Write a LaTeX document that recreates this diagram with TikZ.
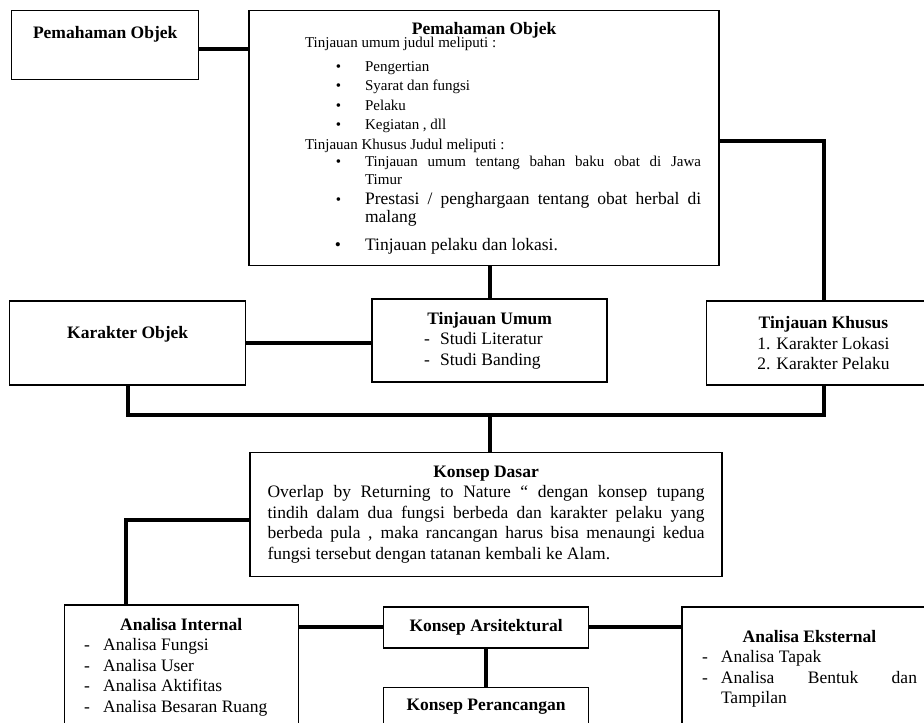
\documentclass[tikz,border=0pt]{standalone}
\usepackage{fontspec}
\setmainfont{Liberation Serif}
\usepackage{enumitem}
\usetikzlibrary{positioning}

\newcommand{\bodyfont}{\fontsize{17.5}{20.5}\selectfont}
\newcommand{\smallfont}{\fontsize{15}{19.5}\selectfont}
\newcommand{\ditem}[2][19pt]{\makebox[#1][l]{-}#2}

\begin{document}
\begin{tikzpicture}[
  x=1pt, y=-1pt,
  kbox/.style={rectangle, draw, line width=1.4pt, font=\bodyfont, inner sep=0pt},
  ktitle/.style={font=\bodyfont\bfseries, inner sep=0pt},
  link/.style={line width=4pt}
]
\path[use as bounding box, clip] (0,0) rectangle (924,723);

% Top row: object understanding
\node[kbox, minimum width=187pt, minimum height=69pt, anchor=north west]
    (po) at (11,10) {};
\node[ktitle, below=16pt of po.north] (po-t) {Pemahaman Objek};

\node[kbox, text width=434pt, inner xsep=18pt, minimum height=255pt,
      align=justify, right=49pt of po.north east, anchor=north west]
    (pob) {\centerline{\textbf{Pemahaman Objek}}\vspace{-6pt}
           {\smallfont
            \hspace*{38pt}Tinjauan umum judul meliputi :\par\vspace{4pt}
            \begin{itemize}[label=\textbullet, leftmargin=98pt, labelsep=24pt,
                            nosep]
              \item Pengertian
              \item Syarat dan fungsi
              \item Pelaku
              \item Kegiatan , dll
            \end{itemize}\vspace{2pt}
            \fontsize{15}{17.5}\selectfont
            \hspace*{38pt}Tinjauan Khusus Judul meliputi :
            \begin{itemize}[label=\textbullet, leftmargin=98pt, labelsep=24pt,
                            nosep]
              \item Tinjauan umum tentang bahan baku obat di Jawa\linebreak Timur
                    \par\vspace{3pt}
              \item \fontsize{17.5}{17.5}\selectfont
                    Prestasi / penghargaan tentang obat herbal di malang
                    \par\vspace{11pt}
              \item \fontsize{17.5}{17.5}\selectfont Tinjauan pelaku dan lokasi.
            \end{itemize}\par}};

% Middle row: reviews
\node[kbox, text width=235pt, minimum height=83pt, align=justify,
      below=32pt of pob.south, xshift=5.5pt]
    (tu) {\centerline{\textbf{Tinjauan Umum}}
          \hspace*{52pt}\ditem[16pt]{Studi Literatur}\\
          \hspace*{52pt}\ditem[16pt]{Studi Banding}};

\node[kbox, minimum width=236pt, minimum height=84pt,
      left=125pt of tu, yshift=-2.5pt]
    (ko) {};
\node[ktitle, below=26pt of ko.north] (ko-t) {Karakter Objek};

\node[kbox, text width=234pt, minimum height=84pt, align=justify,
      right=98pt of tu, yshift=-2.5pt]
    (tk) {\centerline{\textbf{Tinjauan Khusus}}
          \centerline{1. Karakter Lokasi}
          \centerline{2. Karakter Pelaku}};

\coordinate[below=32pt of tu.south] (bus);

% Basic concept
\node[kbox, text width=437pt, inner xsep=17.5pt, minimum height=124pt,
      align=justify, below=69pt of tu, xshift=-3.5pt]
    (kd) {\centerline{\textbf{Konsep Dasar}}
          Overlap by Returning to Nature `` dengan konsep tupang\linebreak
          tindih dalam dua fungsi berbeda dan karakter pelaku yang\linebreak
          berbeda pula , maka rancangan harus bisa menaungi kedua\linebreak
          fungsi tersebut dengan tatanan kembali ke Alam.};

% Bottom row: analysis and design concepts
\node[kbox, minimum width=205pt, minimum height=41pt, font=\bodyfont\bfseries,
      below=29pt of kd]
    (ka) {Konsep Arsitektural};

\node[kbox, minimum width=205pt, minimum height=49pt, below=38pt of ka]
    (kp) {};
\node[ktitle, below=12pt of kp.north] (kp-t) {Konsep Perancangan};

\node[kbox, text width=234pt, minimum height=124pt, align=justify,
      left=84pt of ka.north west, anchor=north east, yshift=2pt]
    (ai) {\centerline{\textbf{Analisa Internal}}
          \hspace*{20pt}\ditem{Analisa Fungsi}\\
          \hspace*{20pt}\ditem{Analisa User}\\
          \hspace*{20pt}\ditem{Analisa Aktifitas}\\
          \hspace*{20pt}\ditem{Analisa Besaran Ruang}};

\node[kbox, text width=215pt, inner xsep=20pt, minimum height=124pt,
      align=justify, right=92pt of ka.north east, anchor=north west]
    (ae) {\centerline{\textbf{Analisa Eksternal}}
          \ditem{Analisa Tapak}\\
          \ditem{Analisa\hfill Bentuk\hfill dan}\\
          \hspace*{19pt}Tampilan};

% Connectors
\draw[link] ([yshift=-3.5pt]po.east) -- ([yshift=-3.5pt]po.east -| pob.west);
\draw[link] ([yshift=-2.5pt]pob.east) -| (tk.north);
\draw[link] (tu.north) -- (tu.north |- pob.south);
\draw[link] (ko.east) -- (ko.east -| tu.west);
\draw[link] (ko.south) |- (bus) -| (tk.south);
\draw[link] (bus) -- (bus |- kd.north);
\draw[link] ([yshift=-5pt]kd.west) -| ([xshift=-55pt]ai.north);
\draw[link] (ka.west) -- (ka.west -| ai.east);
\draw[link] (ka.east) -- (ka.east -| ae.west);
\draw[link] (ka.south) -- (kp.north);

\end{tikzpicture}
\end{document}
